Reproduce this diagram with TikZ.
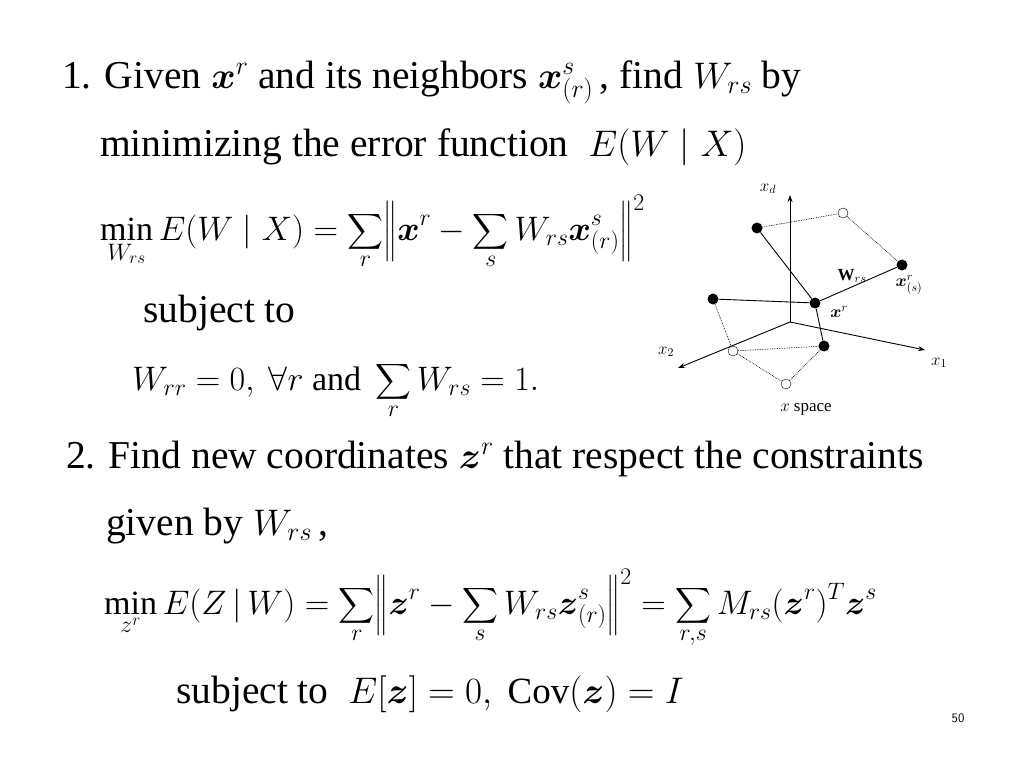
\RequirePackage{fix-cm}
\documentclass[tikz,border=0pt]{standalone}
\usepackage{amsmath}
\usepackage{fontspec}
\setmainfont{Liberation Serif}
\usetikzlibrary{arrows.meta}
\newcommand{\Mth}[1]{{\fontsize{37}{42}\selectfont$#1$}}
\newcommand{\Dth}[1]{{\fontsize{34}{42}\selectfont$\displaystyle #1$}}
\begin{document}
\begin{tikzpicture}[x=1pt,y=-1pt,
  txt/.style={anchor=base west,inner sep=0pt,font=\fontsize{39.5}{42}\selectfont},
  fdot/.style={circle,fill=black,inner sep=0pt,minimum size=11pt},
  odot/.style={circle,draw=black,fill=white,inner sep=0pt,minimum size=10pt,thin},
  lab/.style={inner sep=0pt,font=\fontsize{17}{18}\selectfont},
  ax/.style={-{Stealth[length=7pt,width=5pt]},line width=0.9pt},
  sl/.style={line width=0.9pt},
  dl/.style={densely dotted,line width=0.7pt}]
\useasboundingbox (0,0) rectangle (1024,768);
\node[txt] (l1) at (62,88) {1. Given \Mth{\boldsymbol{x}^r} and its neighbors \Mth{\boldsymbol{x}^s_{(r)}}\,, find \Mth{W_{rs}} by};
\node[txt] (l2) at (100,156) {minimizing the error function \ \Mth{E(W\mid X)}};
\node[txt] (l3) at (100,240) {\Dth{\min_{W_{rs}} E(W\mid X)=\sum_r\Bigl\|\boldsymbol{x}^r-\sum_s W_{rs}\boldsymbol{x}^s_{(r)}\Bigr\|^2}};
\node[txt] (l4) at (143,322) {subject to};
\node[txt] (l5) at (132,390) {\Dth{W_{rr}=0,\ \forall r\ \text{and}\ \sum_r W_{rs}=1.}};
\node[txt] (l6) at (66,468) {2. Find new coordinates \Mth{\boldsymbol{z}^r} that respect the constraints};
\node[txt] (l7) at (106,535) {given by \Mth{W_{rs}}\,,};
\node[txt] (l8) at (104,614) {\Dth{\min_{z^r} E(Z\,|\,W)=\sum_r\Bigl\|\boldsymbol{z}^r-\sum_s W_{rs}\boldsymbol{z}^s_{(r)}\Bigr\|^2=\sum_{r,s}M_{rs}(\boldsymbol{z}^r)^T\boldsymbol{z}^s}};
\node[txt] (l9) at (176,703) {subject to \ \Mth{E[\boldsymbol{z}]=0,\ \mathrm{Cov}(\boldsymbol{z})=I}};
\node[anchor=base,inner sep=0pt,font=\fontsize{13}{14}\sffamily] (pg) at (958,722) {50};
% figure
\coordinate (O) at (790,322);
\coordinate (Xd) at (790,195);
\coordinate (X1) at (925,350);
\coordinate (X2) at (678,368);
\draw[ax] (O) -- (Xd);
\draw[ax] (O) -- (X1);
\draw[ax] (O) -- (X2);
\node[fdot] (A) at (757,228) {};
\node[fdot] (B) at (902,265) {};
\node[fdot] (C) at (713,299) {};
\node[fdot] (R) at (815,303) {};
\node[fdot] (D) at (824,346) {};
\node[odot] (E) at (843,213) {};
\node[odot] (F) at (733,351) {};
\node[odot] (G) at (786,384) {};
\draw[sl] (A) -- (R); \draw[sl] (C) -- (R); \draw[sl] (R) -- (B); \draw[sl] (R) -- (D);
\draw[dl] (A) -- (E); \draw[dl] (E) -- (B); \draw[dl] (C) -- (F);
\draw[dl] (F) -- (D); \draw[dl] (F) -- (G); \draw[dl] (G) -- (D);
\node[lab] (ld) at (768,189) {$x_d$};
\node[lab] (l1x) at (939,363) {$x_1$};
\node[lab] (l2x) at (666,352) {$x_2$};
\node[lab] (lw) at (852,276) {$\mathbf{W}_{rs}$};
\node[lab] (lr) at (839,312) {$\boldsymbol{x}^r$};
\node[lab] (ls) at (909,285) {$\boldsymbol{x}^r_{(s)}$};
\node[lab] (lsp) at (806,409) {$x$ space};
\end{tikzpicture}
\end{document}
